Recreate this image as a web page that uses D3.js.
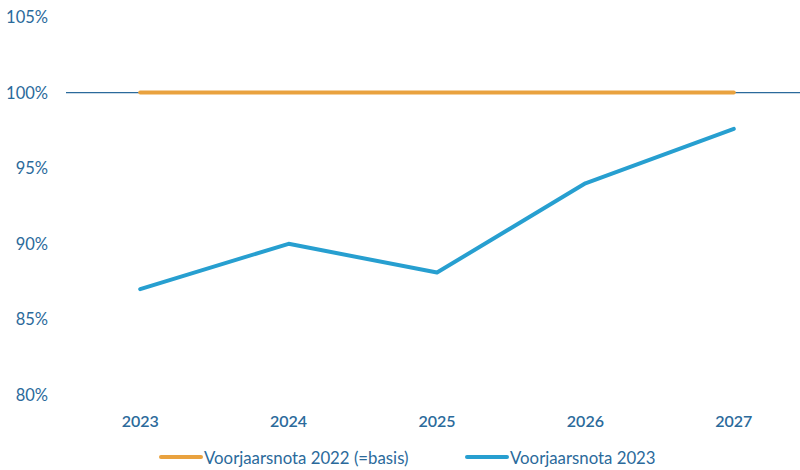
<!DOCTYPE html>
<html>
<head>
<meta charset="utf-8">
<script src="https://cdn.jsdelivr.net/npm/d3@7"></script>
<style>
  body { margin: 0; background: #fff; }
  svg text { font-family: Lato, "Open Sans", sans-serif; fill: #2b6a9b; }
</style>
</head>
<body>
<svg id="chart"></svg>
<script>
// data
const years = ["2023", "2024", "2025", "2026", "2027"];
const basis2022 = [100, 100, 100, 100, 100];
const nota2023 = [87.0, 90.0, 88.1, 94.0, 97.6];
const yTicks = [80, 85, 90, 95, 100, 105];
const seriesNames = ["Voorjaarsnota 2022 (=basis)", "Voorjaarsnota 2023"];
const seriesColors = ["#e9a23f", "#279fd0"];

const width = 800, height = 470;

const svg = d3.select("#chart")
  .attr("width", width)
  .attr("height", height);

const x = d3.scaleBand()
  .domain(years)
  .range([66, 808]);

const y = d3.scaleLinear()
  .domain([80, 105])
  .range([395, 17]);

// y tick labels
svg.append("g")
  .selectAll("text")
  .data(yTicks)
  .enter()
  .append("text")
  .attr("x", 48)
  .attr("y", d => y(d))
  .attr("text-anchor", "end")
  .attr("dominant-baseline", "central")
  .style("font-size", "16.5px")
  .text(d => d + "%");

// x tick labels
svg.append("g")
  .selectAll("text")
  .data(years)
  .enter()
  .append("text")
  .attr("x", d => x(d) + x.bandwidth() / 2)
  .attr("y", 420)
  .attr("text-anchor", "middle")
  .attr("dominant-baseline", "central")
  .style("font-size", "16px")
  .style("font-weight", "600")
  .text(d => d);

// baseline at 100%
svg.append("line")
  .attr("x1", 66)
  .attr("x2", width)
  .attr("y1", y(100))
  .attr("y2", y(100))
  .attr("stroke", "#2b6a9b")
  .attr("stroke-width", 1.2);

const line = d3.line()
  .x((d, i) => x(years[i]) + x.bandwidth() / 2)
  .y(d => y(d));

[basis2022, nota2023].forEach(function (s, i) {
  svg.append("path")
    .datum(s)
    .attr("d", line)
    .attr("fill", "none")
    .attr("stroke", seriesColors[i])
    .attr("stroke-width", 4)
    .attr("stroke-linecap", "round")
    .attr("stroke-linejoin", "round");
});

// legend
const legendX = [161, 467];
seriesNames.forEach(function (name, i) {
  svg.append("line")
    .attr("x1", legendX[i])
    .attr("x2", legendX[i] + 40)
    .attr("y1", 457)
    .attr("y2", 457)
    .attr("stroke", seriesColors[i])
    .attr("stroke-width", 4)
    .attr("stroke-linecap", "round");
  svg.append("text")
    .attr("x", legendX[i] + 43)
    .attr("y", 457)
    .attr("dominant-baseline", "central")
    .style("font-size", "16.8px")
    .text(name);
});
</script>
</body>
</html>
